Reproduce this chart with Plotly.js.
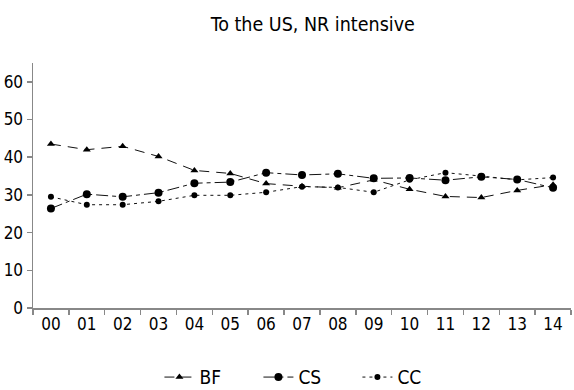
<!DOCTYPE html>
<html>
<head>
<meta charset="utf-8">
<script src="https://cdn.plot.ly/plotly-3.0.1.min.js"></script>
<style>html,body{margin:0;padding:0;background:#fff;}#chart{width:574px;height:390px;}</style>
</head>
<body>
<div id="chart"></div>
<script>
const years = ["00","01","02","03","04","05","06","07","08","09","10","11","12","13","14"];
const BF = [43.5, 42.0, 42.9, 40.2, 36.5, 35.7, 33.0, 32.3, 31.9, 34.0, 31.5, 29.6, 29.3, 31.2, 32.7];
const CS = [26.4, 30.2, 29.5, 30.6, 33.1, 33.4, 35.9, 35.3, 35.6, 34.4, 34.5, 33.9, 34.8, 34.1, 31.9];
const CC = [29.5, 27.4, 27.4, 28.3, 29.9, 29.9, 30.7, 32.2, 32.0, 30.7, 34.0, 35.9, 35.0, 34.0, 34.6];
const yTicks = [0, 10, 20, 30, 40, 50, 60];

const FAM = '"DejaVu Sans Condensed", "DejaVu Sans", sans-serif';
function f(size) { return {family: FAM, size: size, color: '#000', stretch: 'condensed'}; }

const traces = [
  {x: years, y: BF, name: 'BF', type: 'scatter', mode: 'lines+markers',
   line: {color: '#111', width: 1, dash: '10px,7px'},
   marker: {symbol: 'triangle-up', size: 7, color: '#000'}},
  {x: years, y: CS, name: 'CS', type: 'scatter', mode: 'lines+markers',
   line: {color: '#111', width: 1, dash: '12px,4px,4px,4px'},
   marker: {symbol: 'circle', size: 8, color: '#000'}},
  {x: years, y: CC, name: 'CC', type: 'scatter', mode: 'lines+markers',
   line: {color: '#111', width: 1, dash: '3px,4px'},
   marker: {symbol: 'circle', size: 6, color: '#000'}}
];

const layout = {
  width: 574, height: 390,
  margin: {l: 33, r: 3, t: 63, b: 82, autoexpand: false},
  paper_bgcolor: '#fff', plot_bgcolor: '#fff',
  font: f(17),
  title: {text: 'To the US, NR intensive', x: 0.545, xanchor: 'center', y: 0.938, yanchor: 'middle',
          font: f(19.5)},
  showlegend: true,
  legend: {orientation: 'h', x: 0.235, xanchor: 'left', y: -0.205, yanchor: 'top',
           font: f(19), entrywidth: 54, entrywidthmode: 'pixels', itemwidth: 30},
  xaxis: {type: 'category', range: [-0.5, 14.5], showgrid: false, zeroline: false,
          showline: true, linecolor: '#888', linewidth: 1.5,
          ticks: 'outside', tickson: 'boundaries', ticklen: 5, tickcolor: '#888', tickwidth: 1.5,
          tickfont: f(17)},
  yaxis: {range: [0, 65], showgrid: false, zeroline: false,
          showline: true, linecolor: '#888', linewidth: 1.5,
          ticks: 'outside', ticklen: 5, tickcolor: '#888', tickwidth: 1.5,
          tickvals: yTicks, ticktext: yTicks.map(String),
          tickfont: f(17)}
};

Plotly.newPlot('chart', traces, layout, {displayModeBar: false, staticPlot: true});
</script>
</body>
</html>
